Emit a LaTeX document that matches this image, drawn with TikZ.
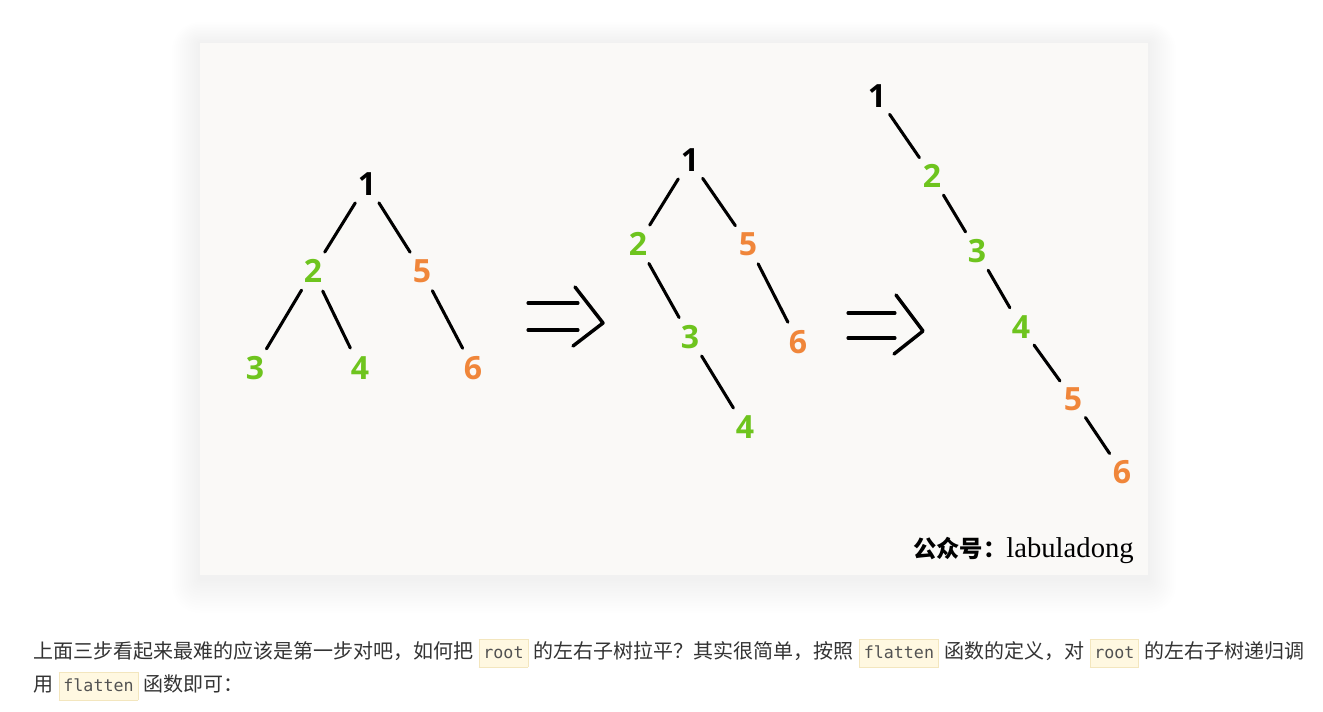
\documentclass[tikz,border=0pt]{standalone}
\usepackage{fontspec}
\usepackage{xcolor}
\usetikzlibrary{positioning}
\newfontfamily\cjk{Noto Sans CJK SC}
\newfontfamily\digits{Open Sans}
\newfontfamily\codefont{DejaVu Sans Mono}
\newfontfamily\markserif{Liberation Serif}
\definecolor{leafgreen}{RGB}{110,196,30}
\definecolor{leaforange}{RGB}{240,134,58}
\definecolor{paper}{RGB}{250,249,247}
\definecolor{chipfill}{RGB}{255,248,225}
\definecolor{chipline}{RGB}{243,230,190}
\definecolor{bodytext}{RGB}{51,51,51}
\setlength{\fboxsep}{3pt}
\setlength{\fboxrule}{0.6pt}
\newcommand{\codechip}[1]{\hspace{4pt}\fcolorbox{chipline}{chipfill}{\vphantom{Ay}\codefont\fontsize{12.5}{12.5}\selectfont\color{bodytext!85}#1}\hspace{4pt}}

\begin{document}
\begin{tikzpicture}[x=0.75pt, y=-0.75pt,
  digit/.style={circle, inner sep=0pt, minimum size=33pt, font=\digits\bfseries\fontsize{24}{24}\selectfont},
  root digit/.style={digit, text=black},
  green digit/.style={digit, text=leafgreen},
  orange digit/.style={digit, text=leaforange},
  stick/.style={line width=2.3pt, line cap=round},
  every text node part/.style={align=left}]
\useasboundingbox (0,0) rectangle (1323,711);
\fill [white] (0,0) rectangle (1323,711);
\foreach \i in {1,...,14}
  \fill [black, opacity=0.004, rounded corners=\i*1.5pt] (200-\i*2,43-\i*1.5) rectangle (1148+\i*2,578+\i*2.5);
\fill [paper] (200,43) rectangle (1148,575);

\node (before 1) [root digit] at (367,184) {1};
\node (before 2) [green digit] at (313,271) {2};
\node (before 5) [orange digit] at (422,271) {5};
\node (before 3) [green digit] at (255,368) {3};
\node (before 4) [green digit] at (360,368) {4};
\node (before 6) [orange digit] at (473,368) {6};

\draw [stick] (before 1) -- (before 2);
\draw [stick] (before 1) -- (before 5);
\draw [stick] (before 2) -- (before 3);
\draw [stick] (before 2) -- (before 4);
\draw [stick] (before 5) -- (before 6);

\draw [stick] (528,303) -- (578,303);
\draw [stick] (528,330) -- (578,330);
\draw [stick, line width=2.6pt, line join=round] (575,287) -- (603,323) -- (573,346);

\node (middle 1) [root digit] at (690,160) {1};
\node (middle 2) [green digit] at (638,244) {2};
\node (middle 5) [orange digit] at (748,244) {5};
\node (middle 3) [green digit] at (690,337) {3};
\node (middle 6) [orange digit] at (798,342) {6};
\node (middle 4) [green digit] at (745,427) {4};

\draw [stick] (middle 1) -- (middle 2);
\draw [stick] (middle 1) -- (middle 5);
\draw [stick] (middle 2) -- (middle 3);
\draw [stick] (middle 5) -- (middle 6);
\draw [stick] (middle 3) -- (middle 4);

\draw [stick] (848,313) -- (895,313);
\draw [stick] (848,338) -- (895,338);
\draw [stick, line width=2.6pt, line join=round] (896,295) -- (923,331) -- (894,354);

\node (after 1) [root digit] at (877,96) {1};
\node (after 2) [green digit] at (932,176) {2};
\node (after 3) [green digit] at (977,251) {3};
\node (after 4) [green digit] at (1021,327) {4};
\node (after 5) [orange digit] at (1073,399) {5};
\node (after 6) [orange digit] at (1122,472) {6};

\draw [stick] (after 1) -- (after 2);
\draw [stick] (after 2) -- (after 3);
\draw [stick] (after 3) -- (after 4);
\draw [stick] (after 4) -- (after 5);
\draw [stick] (after 5) -- (after 6);

\node (watermark) [anchor=base east, inner sep=0pt] at (1134,557) {\cjk\bfseries\fontsize{17.5}{17.5}\selectfont 公众号：\markserif\mdseries\fontsize{21.5}{21.5}\selectfont labuladong};

\node (first line) [anchor=base west, inner sep=0pt, text=bodytext] at (33,658) {\cjk\fontsize{15}{15}\selectfont 上面三步看起来最难的应该是第一步对吧，如何把\codechip{root}的左右子树拉平？其实很简单，按照\codechip{flatten}函数的定义，对\codechip{root}的左右子树递归调};
\node (second line) [anchor=base west, inner sep=0pt, text=bodytext] at (33,691) {\cjk\fontsize{15}{15}\selectfont 用\codechip{flatten}函数即可：};

\end{tikzpicture}
\end{document}
